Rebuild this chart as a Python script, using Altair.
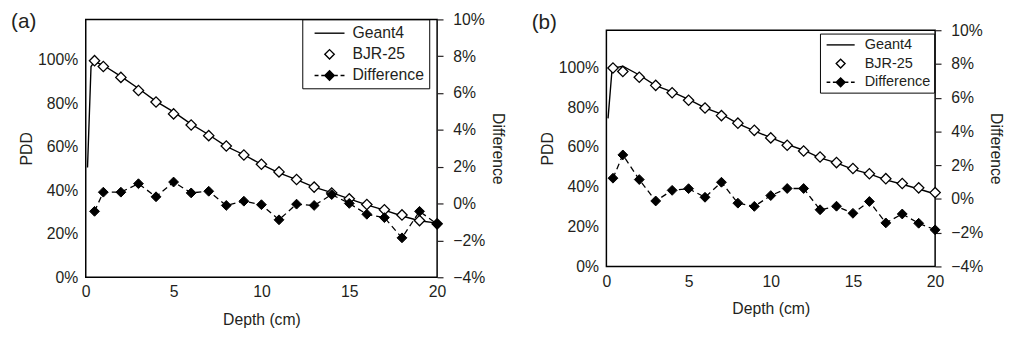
import altair as alt
import pandas as pd

FONT = "Liberation Sans"
INK = "#231f20"

# ---------------- Panel (a) ----------------
a_geant_depth = [0.1, 0.3, 0.5, 1, 2, 3, 4, 5, 6, 7, 8, 9, 10, 11, 12, 13, 14, 15, 16, 17, 18, 19, 20]
a_geant_pdd = [50.5, 97.0, 99.3, 97.6, 92.5, 86.9, 81.0, 76.1, 70.5, 65.6, 60.3, 56.4, 52.0, 48.1,
               45.0, 41.5, 39.0, 36.1, 33.3, 30.9, 28.2, 26.0, 24.9]
a_depth = [0.5, 1, 2, 3, 4, 5, 6, 7, 8, 9, 10, 11, 12, 13, 14, 15, 16, 17, 18, 19, 20]
a_bjr = [99.7, 97.0, 92.0, 86.0, 80.7, 75.2, 70.1, 65.2, 60.4, 56.3, 52.0, 48.5, 45.0, 41.5,
         38.8, 36.1, 33.5, 31.1, 28.7, 26.1, 24.6]
a_diff = [-0.42, 0.62, 0.62, 1.08, 0.37, 1.17, 0.58, 0.67, -0.10, 0.13, -0.06, -0.88, -0.03,
          -0.10, 0.49, 0.01, -0.58, -0.76, -1.86, -0.42, -1.11]

# ---------------- Panel (b) ----------------
b_geant_depth = [0.1, 0.35, 1, 2, 3, 4, 5, 6, 7, 8, 9, 10, 11, 12, 13, 14, 15, 16, 17, 18, 19, 20]
b_geant_pdd = [74.4, 99.6, 100.6, 96.2, 90.9, 87.7, 84.0, 79.7, 76.5, 71.8, 68.1, 64.7, 61.3,
               58.4, 54.6, 52.0, 48.8, 46.5, 43.5, 41.3, 38.9, 36.4]
b_depth = [0.4, 1, 2, 3, 4, 5, 6, 7, 8, 9, 10, 11, 12, 13, 14, 15, 16, 17, 18, 19, 20]
b_bjr = [99.7, 98.0, 95.1, 91.0, 87.3, 83.5, 79.6, 75.8, 72.0, 68.4, 64.6, 60.9, 58.0, 55.0,
         52.2, 49.2, 46.6, 44.1, 41.7, 39.5, 37.1]
b_diff = [1.23, 2.61, 1.15, -0.12, 0.51, 0.61, 0.10, 0.99, -0.25, -0.44, 0.20, 0.62, 0.62,
          -0.64, -0.43, -0.85, -0.15, -1.42, -0.89, -1.44, -1.83]

series_names = ["Geant4", "BJR-25", "Difference"]
legend_shapes = [
    "M-1.9,0H1.9",
    "M0,-0.6L0.6,0L0,0.6L-0.6,0Z",
    "M-1.9,0H-1.4M-1.05,0H-0.6M0,-0.6L0.6,0L0,0.6L-0.6,0ZM0.6,0H1.05M1.4,0H1.9",
]
legend_fills = ["white", "white", "black"]

pdd_ticks = [0, 0.2, 0.4, 0.6, 0.8, 1.0]
diff_ticks = [-0.04, -0.02, 0, 0.02, 0.04, 0.06, 0.08, 0.10]
depth_ticks = [0, 5, 10, 15, 20]


def panel(label, gd, gp, d, bjr, diff, w, h, legx, legy, legfont, legsize, legpad,
          symoff, laboff, rowpad, title_offset):
    gdf = pd.DataFrame({"depth": gd, "pdd": [v / 100 for v in gp]})
    pdf = pd.DataFrame({"depth": d, "pdd": [v / 100 for v in bjr],
                        "diff": [v / 100 for v in diff]})
    pdf["series"] = "BJR-25"

    x_scale = alt.Scale(domain=[0, 20], nice=False)
    x_axis = alt.Axis(values=depth_ticks, title="Depth (cm)", ticks=False,
                      domain=False, grid=False, labelPadding=7, titlePadding=12,
                      labelOverlap=False, labelFlush=False)
    yl_scale = alt.Scale(domain=[0, 1.187], nice=False, zero=False)
    yl_axis = alt.Axis(values=pdd_ticks, format=".0%", title="PDD", ticks=False,
                       domain=False, grid=False, labelPadding=8, titlePadding=3,
                       labelOverlap=False, labelFlush=False)
    yr_scale = alt.Scale(domain=[-0.04, 0.10], nice=False, zero=False)
    yr_axis = alt.Axis(values=diff_ticks, format=".0%", title="Difference", orient="right",
                       ticks=True, tickSize=6, tickColor=INK, tickWidth=1.2, domain=False,
                       grid=False, labelPadding=10, labelAlign="left", titlePadding=5,
                       labelOverlap=False, labelFlush=False, tickCount=8)

    X = alt.X("depth:Q", scale=x_scale, axis=x_axis)
    YL = alt.Y("pdd:Q", scale=yl_scale, axis=yl_axis)
    YR = alt.Y("diff:Q", scale=yr_scale, axis=yr_axis)

    geant = alt.Chart(gdf).mark_line(color="black", strokeWidth=1.4).encode(x=X, y=YL)
    bjr_pts = alt.Chart(pdf).mark_point(shape="diamond", filled=True, fill="white",
                                        stroke="black", strokeWidth=1.3, size=110,
                                        opacity=1).encode(x=X, y=YL)
    legend_layer = alt.Chart(pdf).transform_filter("false").mark_point(
        filled=True, stroke="black", strokeWidth=1.4, opacity=1).encode(
        x=X, y=YL,
        shape=alt.Shape("series:N", scale=alt.Scale(domain=series_names, range=legend_shapes),
                        legend=alt.Legend(title=None, orient="none", legendX=legx, legendY=legy,
                                          strokeColor="black", fillColor="white",
                                          padding=legpad, symbolSize=legsize,
                                          symbolOffset=symoff, labelOffset=laboff,
                                          labelFont=FONT, labelFontSize=legfont,
                                          labelColor=INK, rowPadding=rowpad,
                                          symbolStrokeWidth=1.4)),
        fill=alt.Fill("series:N", scale=alt.Scale(domain=series_names, range=legend_fills),
                      legend=alt.Legend(title=None, orient="none", legendX=legx, legendY=legy)),
    )
    left = alt.layer(geant, bjr_pts, legend_layer)

    dline = alt.Chart(pdf).mark_line(color="black", strokeWidth=1.3,
                                     strokeDash=[6, 4]).encode(x=X, y=YR)
    dpts = alt.Chart(pdf).mark_point(shape="diamond", filled=True, fill="black",
                                     stroke="black", strokeWidth=1, size=100,
                                     opacity=1).encode(x=X, y=YR)
    right = alt.layer(dline, dpts)

    return alt.layer(left, right).resolve_scale(y="independent").properties(
        width=w, height=h,
        title=alt.TitleParams(label, anchor="start", frame="bounds", fontSize=21,
                              fontWeight="normal", font=FONT, color=INK, dx=-8,
                              offset=title_offset),
    )


pa = panel("(a)", a_geant_depth, a_geant_pdd, a_depth, a_bjr, a_diff, 357, 262,
           220, 0, 16, 256, 5, 13.7, 14.3, 4.5, -21)
pb = panel("(b)", b_geant_depth, b_geant_pdd, b_depth, b_bjr, b_diff, 334, 240,
           217, 3.4, 14.7, 225, 3, 9.5, 15.9, 3, -11)

chart = alt.hconcat(pa, pb, spacing=172, bounds="flush", center=True).resolve_scale(
    shape="independent", fill="independent", x="independent"
).properties(
    padding={"left": 2, "top": 0, "right": 0, "bottom": 0},
    background="white",
).configure_view(
    stroke="black", strokeWidth=1.5
).configure_axis(
    labelFont=FONT, titleFont=FONT, labelFontSize=16, titleFontSize=16,
    titleFontWeight="normal", labelColor=INK, titleColor=INK
)

chart.save("out.html", embed_options={"renderer": "svg", "actions": False})
